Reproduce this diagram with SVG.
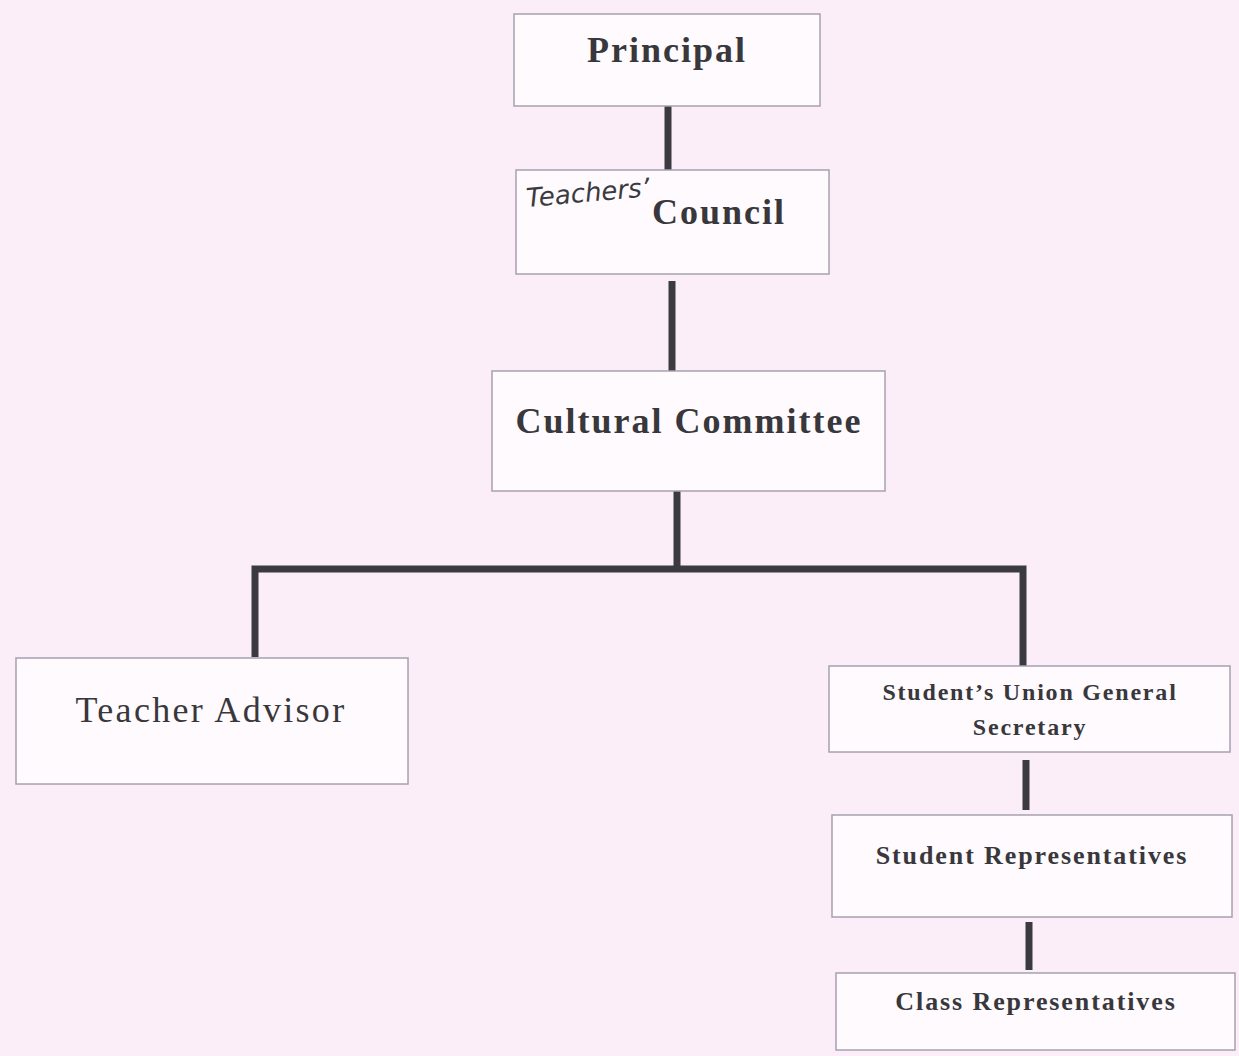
<svg xmlns="http://www.w3.org/2000/svg" width="1239" height="1056" viewBox="0 0 1239 1056">
<style>
.box{fill:#fefafd;stroke:#a8a0b0;stroke-width:1.5}
.t{font-family:"Liberation Serif",serif;fill:#38373c;text-anchor:middle}
.b{font-weight:bold}
.big{font-size:36px;letter-spacing:2px}
.sm{font-size:24px;letter-spacing:1.8px}
.md{font-size:26px;letter-spacing:1.9px}
.c{stroke:#3a3a40;stroke-width:7;fill:none;stroke-linecap:butt}
</style>
<rect width="1239" height="1056" fill="#fbeef8"/>
<g id="connectors">
<line class="c" x1="668" y1="106" x2="668" y2="170"/>
<line class="c" x1="672" y1="281" x2="672" y2="371"/>
<line class="c" x1="677" y1="491" x2="677" y2="570"/>
<polyline class="c" points="255,657 255,569 1023,569 1023,666"/>
<line class="c" x1="1026" y1="760" x2="1026" y2="810"/>
<line class="c" x1="1029" y1="922" x2="1029" y2="970"/>
</g>
<g id="principal">
<rect class="box" x="514" y="14" width="306" height="92"/>
<text class="t b big" x="667" y="62">Principal</text>
</g>
<g id="teachers-council">
<rect class="box" x="516" y="170" width="313" height="104"/>
<text x="527" y="207" font-family="DejaVu Sans,sans-serif" font-style="italic" font-size="26" fill="#3a3a40" transform="rotate(-5 527 207)">Teachers’</text>
<text class="t b big" x="719" y="224">Council</text>
</g>
<g id="cultural-committee">
<rect class="box" x="492" y="371" width="393" height="120"/>
<text class="t b big" x="689" y="433">Cultural Committee</text>
</g>
<g id="teacher-advisor">
<rect class="box" x="16" y="658" width="392" height="126"/>
<text class="t" x="211" y="722" font-size="36" letter-spacing="2.3" fill="#77757c">Teacher Advisor</text>
</g>
<g id="union-secretary">
<rect class="box" x="829" y="666" width="401" height="86"/>
<text class="t b sm" x="1030" y="700">Student’s Union General</text>
<text class="t b sm" x="1030" y="735">Secretary</text>
</g>
<g id="student-reps">
<rect class="box" x="832" y="815" width="400" height="102"/>
<text class="t b md" x="1032" y="864">Student Representatives</text>
</g>
<g id="class-reps">
<rect class="box" x="836" y="973" width="399" height="77"/>
<text class="t b md" x="1036" y="1010">Class Representatives</text>
</g>
</svg>
